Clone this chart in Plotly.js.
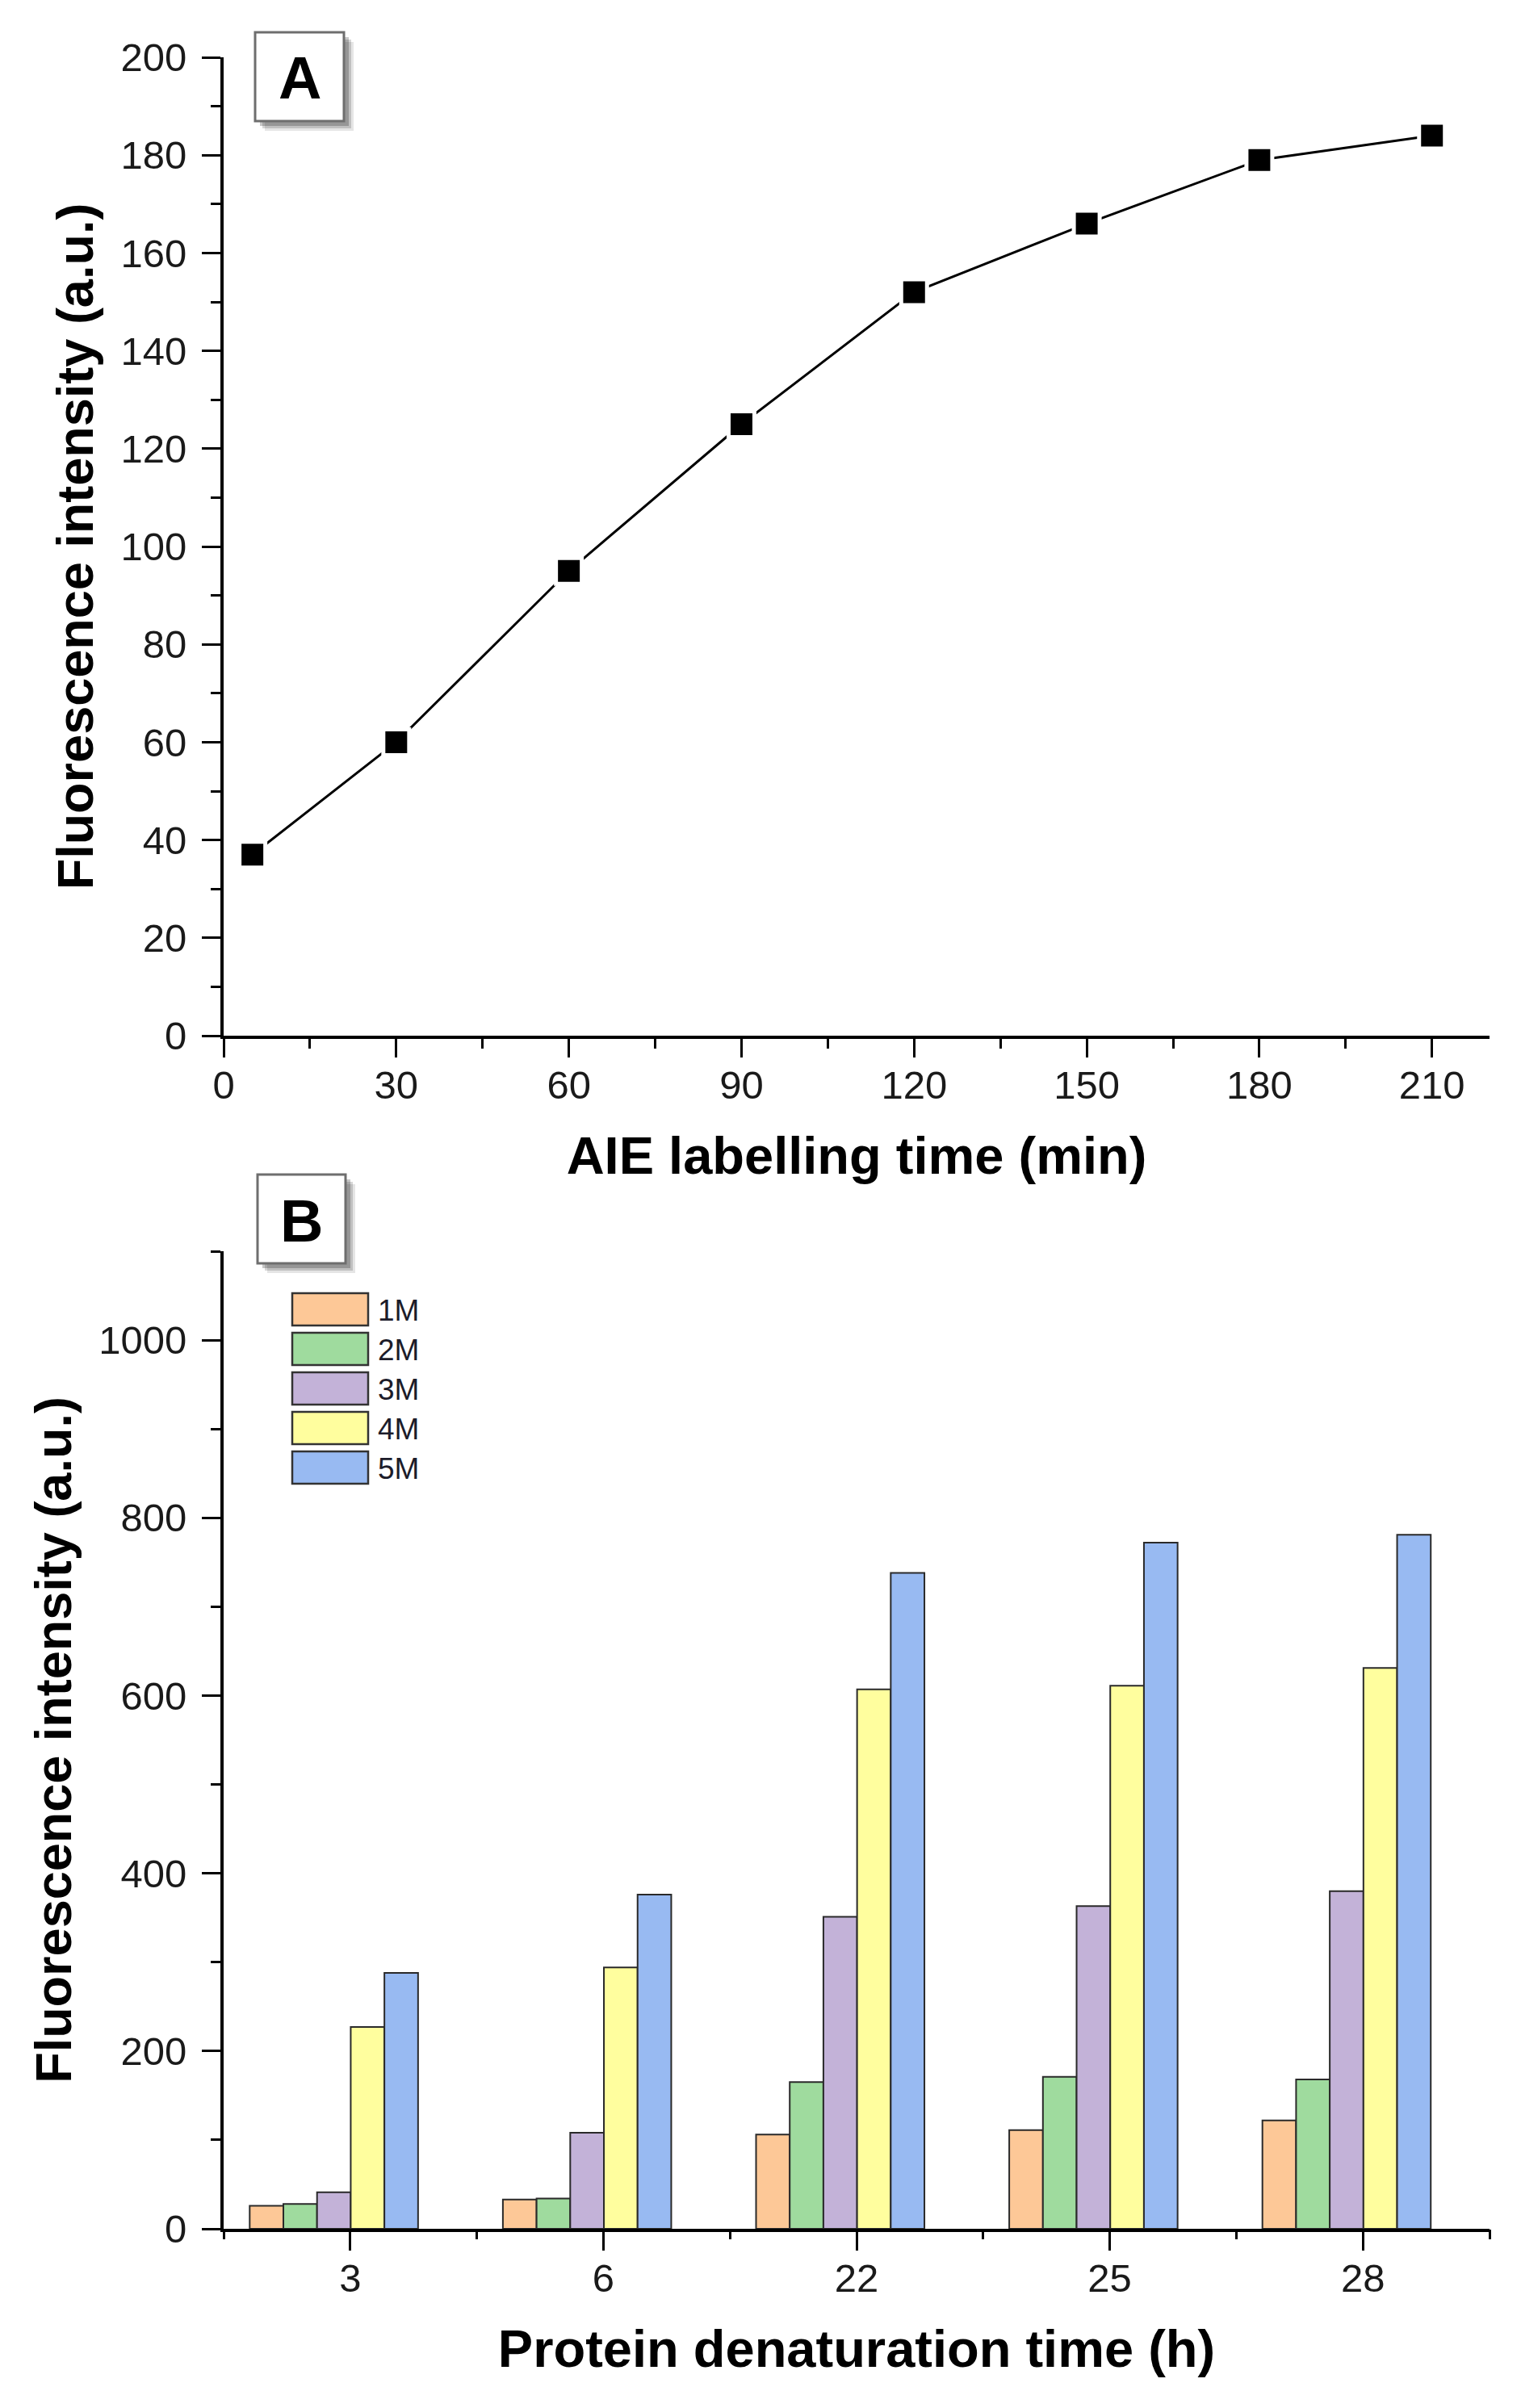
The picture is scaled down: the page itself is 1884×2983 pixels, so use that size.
<!DOCTYPE html>
<html>
<head>
<meta charset="utf-8">
<script src="https://cdn.plot.ly/plotly-3.0.1.min.js"></script>
<style>
  html, body { margin: 0; padding: 0; background: #ffffff; }
  #chart { width: 1884px; height: 2983px; }
</style>
</head>
<body>
<div id="chart"></div>
<script>
// ---------- Panel A data ----------
const labellingTime = [5, 30, 60, 90, 120, 150, 180, 210];
const intensityA = [37, 60, 95, 125, 152, 166, 179, 184];

// ---------- Panel B data ----------
const denatTimes = ["3", "6", "22", "25", "28"];
const seriesNames = ["1M", "2M", "3M", "4M", "5M"];
const s1M = [26, 33, 106, 111, 122];
const s2M = [28, 34, 165, 171, 168];
const s3M = [41, 108, 351, 363, 380];
const s4M = [227, 294, 607, 611, 631];
const s5M = [288, 376, 738, 772, 781];
const seriesValues = [s1M, s2M, s3M, s4M, s5M];
const seriesColors = ["#FDC897", "#9FDB9E", "#C3B2D8", "#FFFE9E", "#98BAF2"];

// ---------- geometry helpers ----------
const W = 1884, H = 2983, L = 277, R = 39;
const px = v => (v - L) / (W - L - R);
const py = v => 1 - v / H;

const FONT = "Liberation Sans, Arial, sans-serif";
const tickFont = {family: FONT, size: 49, color: "#1a1a1a"};
const titleFont = {family: FONT, size: 65, color: "#000", weight: "bold"};
const yTitleFont = {family: FONT, size: 63, color: "#000", weight: "bold"};

const traces = [];
traces.push({
  type: "scatter", mode: "lines+markers",
  x: labellingTime, y: intensityA,
  xaxis: "x", yaxis: "y",
  line: {color: "#000", width: 3},
  marker: {symbol: "square", size: 32, color: "#000", line: {color: "#fff", width: 5}},
  cliponaxis: false
});

const barW = 0.133;
seriesValues.forEach((vals, i) => {
  traces.push({
    type: "bar", name: seriesNames[i],
    x: denatTimes, y: vals,
    xaxis: "x2", yaxis: "y2",
    width: barW, offset: -0.397 + i * barW,
    marker: {color: seriesColors[i], line: {color: "#2a2a2a", width: 2}}
  });
});

const shapes = [];
const annotations = [];

function labelBox(x0, y0, x1, y1, letter) {
  [[12, 0.10], [9, 0.16], [6, 0.22]].forEach(([o, op]) => {
    shapes.push({type: "rect", xref: "paper", yref: "paper",
      x0: px(x0 + o), x1: px(x1 + o), y0: py(y1 + o), y1: py(y0 + o),
      fillcolor: "#000", opacity: op, line: {width: 0}, layer: "above"});
  });
  shapes.push({type: "rect", xref: "paper", yref: "paper",
    x0: px(x0), x1: px(x1), y0: py(y1), y1: py(y0),
    fillcolor: "#fff", line: {color: "#6e6e6e", width: 3}, layer: "above"});
  annotations.push({xref: "paper", yref: "paper",
    x: px((x0 + x1) / 2), y: py((y0 + y1) / 2 + 2), xanchor: "center", yanchor: "middle",
    text: letter, showarrow: false,
    font: {family: FONT, size: 74, color: "#000", weight: "bold"}});
}
labelBox(316, 40, 426, 150, "A");
labelBox(319, 1455, 428, 1565, "B");

// custom legend for panel B built from series arrays
seriesNames.forEach((nm, i) => {
  const top = 1602 + i * 49;
  shapes.push({type: "rect", xref: "paper", yref: "paper",
    x0: px(362), x1: px(456), y0: py(top + 40), y1: py(top),
    fillcolor: seriesColors[i], line: {color: "#333", width: 2.5}, layer: "above"});
  annotations.push({xref: "paper", yref: "paper",
    x: px(466), y: py(top + 21), xanchor: "left", yanchor: "middle",
    text: nm, showarrow: false,
    font: {family: FONT, size: 37, color: "#1c1c2a"}});
});

const axisCommon = {
  showgrid: false, zeroline: false, showline: true,
  linecolor: "#000", linewidth: 4, ticks: "outside", ticklen: 23, tickwidth: 3,
  tickcolor: "#000", tickfont: tickFont, automargin: false
};

const layout = {
  width: W, height: H,
  margin: {l: L, r: R, t: 0, b: 0},
  paper_bgcolor: "#fff", plot_bgcolor: "rgba(0,0,0,0)",
  showlegend: false, hovermode: false, barmode: "overlay",
  xaxis: Object.assign({}, axisCommon, {
    domain: [0, 1], anchor: "y", range: [0, 220], dtick: 30, tick0: 0,
    ticklabelstandoff: -8,
    minor: {dtick: 15, tick0: 0, ticks: "outside", ticklen: 12, tickwidth: 3, tickcolor: "#000"},
    title: {text: "AIE labelling time (min)", font: titleFont, standoff: 40}
  }),
  yaxis: Object.assign({}, axisCommon, {
    domain: [py(1283), py(71)], anchor: "x", range: [0, 200], dtick: 20, tick0: 0,
    ticklabelstandoff: 9,
    minor: {dtick: 10, tick0: 0, ticks: "outside", ticklen: 12, tickwidth: 3, tickcolor: "#000"},
    title: {text: "Fluorescence intensity (a.u.)", font: yTitleFont, standoff: 14}
  }),
  xaxis2: Object.assign({}, axisCommon, {
    domain: [0, 1], anchor: "y2", type: "category", range: [-0.5, 4.5],
    ticklabelstandoff: -8,
    title: {text: "Protein denaturation time (h)", font: titleFont, standoff: 40}
  }),
  xaxis3: {
    domain: [0, 1], anchor: "y2", overlaying: "x2", range: [-0.5, 4.5],
    tickmode: "array", tickvals: [-0.5, 0.5, 1.5, 2.5, 3.5, 4.5],
    showticklabels: false, ticks: "outside", ticklen: 12, tickwidth: 3, tickcolor: "#000",
    showline: false, showgrid: false, zeroline: false
  },
  yaxis2: Object.assign({}, axisCommon, {
    domain: [py(2761), py(1550)], anchor: "x2", range: [0, 1100],
    tickmode: "array", tickvals: [0, 200, 400, 600, 800, 1000],
    ticklabelstandoff: 9,
    minor: {tickmode: "array", tickvals: [100, 300, 500, 700, 900, 1100], ticks: "outside", ticklen: 12, tickwidth: 3, tickcolor: "#000"},
    title: {text: "Fluorescence intensity (a.u.)", font: yTitleFont, standoff: 14}
  }),
  shapes: shapes,
  annotations: annotations
};

traces.push({type: "scatter", x: [0], y: [0], xaxis: "x3", yaxis: "y2",
  mode: "markers", marker: {opacity: 0, size: 1}, hoverinfo: "skip", showlegend: false});

Plotly.newPlot("chart", traces, layout, {staticPlot: true, displayModeBar: false});
</script>
</body>
</html>
